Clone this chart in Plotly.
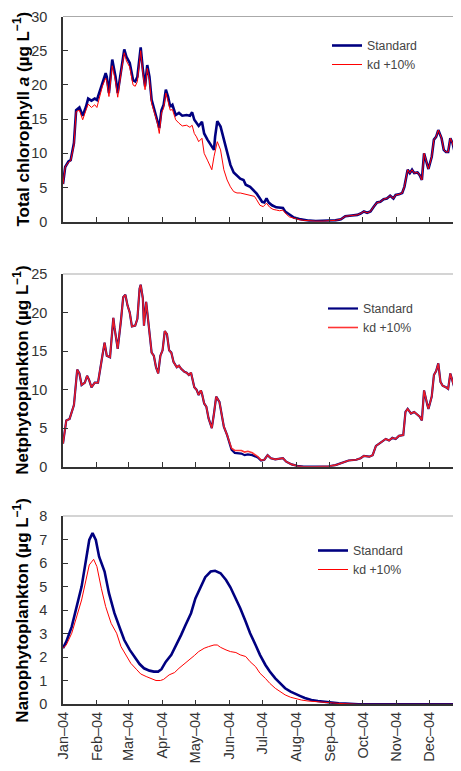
import pandas as pd
import plotly.graph_objects as go

# ---------------- data (day of year 2004, value) ----------------
TOT_STD_DAYS = [0,2,5,7,10,12,15,18,21,23,26,29,31,34,36,39,40,42,45,48,50,53,56,58,61,64,66,68,71,73,75,77,79,81,84,86,88,90,92,94,96,98,100,103,106,109,113,116,118,120,122,124,127,129,132,136,138,139,141,144,147,150,153,156,159,162,165,167,171,174,177,180,182,184,186,188,191,195,198,201,203,207,211,216,220,225,231,237,243,249,254,258,264,269,272,275,278,281,284,287,290,293,296,299,302,304,307,310,312,314,315,317,319,321,324,326,328,330,333,334,337,339,341,343,346,348,350,352,354,356,358,360,363,366]
TOT_STD_VALS = [5.5,8.0,8.8,9.0,11.5,16.3,16.7,15.5,16.8,18.0,17.7,18.0,17.8,19.3,20.5,21.7,21.2,18.8,23.7,21.2,18.8,22.2,25.2,24.1,23.2,20.7,20.5,21.2,25.5,22.2,19.8,22.9,21.2,17.8,15.9,14.9,13.7,16.3,17.1,19.3,18.3,16.8,17.1,15.6,15.9,15.5,15.6,15.5,16.0,14.9,14.4,14.0,14.6,12.9,12.0,11.0,10.5,12.4,14.7,13.9,12.0,10.0,8.3,7.2,6.7,6.3,6.1,5.4,5.1,4.6,4.1,3.4,2.9,2.8,3.4,2.8,2.4,2.1,2.0,2.0,1.5,1.0,0.6,0.4,0.25,0.15,0.1,0.1,0.1,0.2,0.35,0.8,0.9,1.0,1.2,1.5,1.3,1.5,2.2,2.8,2.9,3.3,3.4,3.8,3.4,3.9,4.0,4.2,5.1,7.1,7.6,7.1,7.6,7.1,7.2,6.8,6.1,10.0,8.0,7.7,9.5,12.0,12.4,13.4,12.2,10.5,10.2,10.2,12.2,11.5,10.2,11.2,11.5,11.4]

TOT_KD_DAYS = [0,2,5,7,10,12,15,18,21,23,26,29,31,34,36,39,40,42,45,48,50,53,56,58,61,64,66,68,71,73,75,77,79,81,84,86,88,90,92,94,96,98,100,103,106,109,113,116,118,120,122,124,127,129,132,134,136,138,141,144,147,150,153,156,159,162,165,168,172,175,177,180,183,186,189,192,195,198,201,204,207,212,216,220,225,231,237,243,249,254,258,264,269,272,275,278,281,284,287,290,293,296,299,302,304,307,310,312,314,315,317,319,321,324,326,328,330,333,334,337,339,341,343,346,348,350,352,354,356,358,360,363,366]
TOT_KD_VALS = [5.5,8.0,8.7,8.9,11.2,16.1,16.3,14.9,16.3,17.2,16.7,17.1,16.7,18.8,19.8,21.0,20.5,18.3,22.8,20.5,18.2,21.7,24.7,23.5,22.6,20.0,19.8,20.5,25.0,21.7,19.3,22.4,20.7,17.3,15.5,14.6,12.9,15.9,16.6,18.8,17.6,16.3,16.4,14.9,14.4,14.0,14.1,13.8,14.1,12.9,12.4,11.7,12.2,10.0,9.0,8.3,7.6,9.5,11.7,10.5,7.6,6.1,5.1,4.4,4.2,4.2,4.1,3.9,3.8,3.7,3.2,2.4,2.2,2.7,2.1,1.8,1.7,1.6,1.7,1.1,0.7,0.45,0.3,0.2,0.1,0.08,0.08,0.1,0.2,0.35,0.8,0.9,1.0,1.2,1.5,1.3,1.5,2.2,2.8,2.9,3.3,3.4,3.8,3.4,3.9,4.0,4.2,5.1,7.1,7.6,7.1,7.6,7.1,7.2,6.8,6.1,10.0,8.0,7.7,9.5,12.0,12.4,13.4,12.2,10.5,10.2,10.2,12.2,11.5,10.2,11.2,11.5,11.4]

NET_STD_DAYS = [0,3,6,8,10,13,15,17,20,22,24,26,29,32,34,36,38,40,43,46,47,50,53,55,57,59,61,63,66,68,70,71,73,74,76,79,81,83,85,87,89,91,93,95,97,99,101,104,106,108,111,113,115,117,120,122,124,126,127,129,131,133,136,138,140,143,145,147,150,152,154,157,160,163,166,169,173,178,181,184,187,190,194,197,201,204,209,214,220,231,243,249,255,261,268,272,275,280,283,286,289,292,295,298,301,304,307,311,313,315,318,321,323,326,328,330,333,334,337,339,341,343,345,347,350,352,354,356,358,360,362,366]
NET_STD_VALS = [3.0,6.0,6.2,7.1,8.0,12.6,12.1,10.6,10.9,11.8,11.2,10.3,10.9,10.9,12.9,14.4,16.1,14.4,14.2,19.3,18.1,15.3,19.0,22.0,22.3,20.9,20.0,18.2,18.3,19.2,23.1,23.6,21.8,18.3,21.4,17.9,14.8,14.4,12.9,12.1,14.4,15.1,17.6,17.2,15.1,14.8,13.6,12.9,13.1,12.7,12.3,12.2,11.9,12.2,10.3,10.0,9.3,9.9,9.5,8.2,7.8,6.3,5.0,6.9,9.1,8.4,6.9,5.2,4.1,3.0,2.2,1.8,1.7,1.7,1.5,1.6,1.5,1.2,0.8,0.9,1.5,1.1,0.95,1.0,1.1,0.65,0.3,0.1,0.0,0.0,0.05,0.2,0.55,0.8,0.9,1.1,1.4,1.3,1.5,2.7,3.0,3.3,3.6,3.4,3.75,3.6,4.0,4.1,7.1,7.5,6.9,7.1,6.9,6.5,6.0,9.9,8.0,7.5,9.1,11.9,12.4,13.4,11.0,10.5,10.3,10.1,12.1,11.2,10.1,11.2,11.3,11.2]

NET_KD_DAYS = NET_STD_DAYS
NET_KD_VALS = [3.0,6.0,6.2,7.1,8.0,12.6,12.1,10.6,10.9,11.8,11.2,10.3,10.9,10.9,12.9,14.4,16.1,14.4,14.2,19.3,18.1,15.3,19.0,22.0,22.3,20.9,20.0,18.2,18.3,19.2,23.1,23.6,21.8,18.3,21.4,17.9,14.8,14.4,12.9,12.1,14.4,15.1,17.6,17.2,15.1,14.8,13.6,12.9,13.1,12.7,12.3,12.2,11.9,12.2,10.3,10.0,9.3,9.9,9.5,8.2,7.8,6.3,5.0,6.9,9.1,8.4,6.9,5.2,4.1,3.1,2.4,2.1,2.1,2.1,1.9,2.0,1.8,1.3,0.85,0.9,1.5,1.1,0.95,1.0,1.1,0.65,0.3,0.1,0.0,0.0,0.05,0.2,0.55,0.8,0.9,1.1,1.4,1.3,1.5,2.7,3.0,3.3,3.6,3.4,3.75,3.6,4.0,4.1,7.1,7.5,6.9,7.1,6.9,6.5,6.0,9.9,8.0,7.5,9.1,11.9,12.4,13.4,11.0,10.5,10.3,10.1,12.1,11.2,10.1,11.2,11.3,11.2]

NANO_STD_DAYS = [0,3,8,12,17,21,24,27,30,33,38,42,47,52,56,61,65,70,74,79,83,87,90,94,99,103,108,112,117,121,126,130,135,139,144,149,153,158,162,167,171,176,180,185,189,194,199,203,208,212,217,221,227,233,239,246,252,258,264,270,300,366]
NANO_STD_VALS = [2.38,2.66,3.3,4.08,5.0,6.13,6.98,7.27,6.98,6.27,5.64,4.72,3.87,3.23,2.73,2.31,2.03,1.71,1.53,1.43,1.39,1.39,1.49,1.81,2.1,2.45,2.95,3.37,3.87,4.5,4.97,5.4,5.64,5.67,5.57,5.28,4.97,4.5,4.08,3.51,3.02,2.52,2.1,1.67,1.39,1.1,0.89,0.68,0.54,0.44,0.35,0.27,0.18,0.14,0.1,0.07,0.04,0.03,0.015,0.0,0.0,0.0]

NANO_KD_DAYS = [0,3,8,12,17,21,24,28,31,35,39,44,49,53,58,62,67,71,76,80,85,89,92,97,102,106,111,115,120,124,129,133,138,141,144,149,153,158,162,167,171,176,180,185,189,194,199,203,208,212,218,224,230,238,246,255,264,270,300,366]
NANO_KD_VALS = [2.38,2.52,3.02,3.65,4.43,5.28,5.92,6.16,5.85,4.93,4.15,3.44,3.02,2.45,2.03,1.74,1.49,1.29,1.18,1.1,1.01,1.01,1.06,1.25,1.35,1.53,1.71,1.88,2.07,2.24,2.38,2.45,2.52,2.52,2.42,2.31,2.24,2.2,2.1,2.03,1.81,1.6,1.32,1.1,0.89,0.68,0.54,0.4,0.3,0.24,0.18,0.14,0.11,0.08,0.06,0.03,0.015,0.0,0.0,0.0]

SERIES_NAMES = ["Standard", "kd +10%"]
Y_TITLES = ["Total chlorophyll <i>a</i> (µg L<sup>−1</sup>)",
            "Netphytoplankton (µg L<sup>−1</sup>)",
            "Nanophytoplankton (µg L<sup>−1</sup>)"]
Y_RANGES = [(0, 30, 5), (0, 25, 5), (0, 8, 1)]

BASE = pd.Timestamp("2004-01-01")


def to_dates(days):
    return BASE + pd.to_timedelta(days, unit="D")


W, H = 461, 771
OFF = 8  # page body margin
L_PX, R_PX = 63 - OFF, 461 - OFF
PW = R_PX - L_PX
FONT = "Liberation Sans, Arial, Helvetica, sans-serif"
BLUE = "#000080"
RED = "#FF0000"

fig = go.Figure()

panels = [
    (TOT_STD_DAYS, TOT_STD_VALS, TOT_KD_DAYS, TOT_KD_VALS),
    (NET_STD_DAYS, NET_STD_VALS, NET_KD_DAYS, NET_KD_VALS),
    (NANO_STD_DAYS, NANO_STD_VALS, NANO_KD_DAYS, NANO_KD_VALS),
]
# screen pixel extents (top, bottom) of each plot area
pix = [(16.5, 221.7), (274.0, 466.7), (516.0, 704.3)]
legend_top_px = [31, 294, 536]
legend_left_px = [327, 323, 313]
blue_w = [2.6, 2.2, 2.6]
red_w = [1.0, 1.6, 1.0]
red_col = [RED, "rgba(255,30,30,0.9)", RED]

for i, (sd, sv, kd, kv) in enumerate(panels):
    ax = "" if i == 0 else str(i + 1)
    leg = "legend" if i == 0 else f"legend{i + 1}"
    fig.add_trace(go.Scatter(x=to_dates(sd), y=sv, mode="lines", name=SERIES_NAMES[0],
                             line=dict(color=BLUE, width=blue_w[i]),
                             xaxis="x" + ax, yaxis="y" + ax, legend=leg))
    fig.add_trace(go.Scatter(x=to_dates(kd), y=kv, mode="lines", name=SERIES_NAMES[1],
                             line=dict(color=red_col[i], width=red_w[i]),
                             xaxis="x" + ax, yaxis="y" + ax, legend=leg))

layout = dict(
    template="none",
    width=W, height=H,
    margin=dict(l=L_PX, r=W - R_PX, t=0, b=0, autoexpand=False),
    paper_bgcolor="white", plot_bgcolor="white",
    font=dict(family=FONT, color="#333333"),
    shapes=[], annotations=[],
)

for i in range(3):
    ax = "" if i == 0 else str(i + 1)
    top, bot = pix[i][0] - OFF, pix[i][1] - OFF
    dom = [1 - bot / H, 1 - top / H]
    lo, hi, dt = Y_RANGES[i]
    layout["xaxis" + ax] = dict(
        domain=[0, 1], anchor="y" + ax, type="date", automargin=False,
        range=["2004-01-01", "2004-12-29 18:00"],
        tick0="2004-01-01", dtick="M1", tickformat="%b–%y",
        ticks="inside", ticklen=5, tickwidth=1, tickcolor="#333333",
        showline=True, linecolor="#333333", linewidth=1.5,
        showgrid=False, zeroline=False,
        showticklabels=(i == 2), tickangle=-90,
        tickfont=dict(size=14.5, color="#333333"),
    )
    layout["yaxis" + ax] = dict(
        domain=dom, anchor="x" + ax, range=[lo, hi], dtick=dt, tick0=0, automargin=False,
        ticks="inside", ticklen=5, tickwidth=1, tickcolor="#333333",
        showline=True, linecolor="#333333", linewidth=1.5,
        showgrid=False, zeroline=False,
        tickfont=dict(size=14.5, color="#333333"),
        ticklabelstandoff=11,
    )
    # gray top frame line
    layout["shapes"].append(dict(type="line", xref="x" + ax + " domain", yref="y" + ax + " domain",
                                 x0=0, x1=1, y0=1, y1=1, line=dict(color="#AAAAAA", width=1.2)))
    layout["annotations"].append(dict(
        text="<b>" + Y_TITLES[i] + "</b>", xref="paper", yref="y" + ax + " domain",
        x=(21.5 - OFF - L_PX) / PW, y=0.5, xanchor="center", yanchor="middle",
        textangle=-90, showarrow=False, font=dict(size=17, color="#000000", family=FONT),
    ))
    leg = "legend" if i == 0 else f"legend{i + 1}"
    layout[leg] = dict(
        x=(legend_left_px[i] - OFF - L_PX) / PW, y=1 - (legend_top_px[i] - OFF) / H,
        xanchor="left", yanchor="top",
        bgcolor="rgba(0,0,0,0)", font=dict(size=12.3, color="#444444", family=FONT),
        itemwidth=30, tracegroupgap=0,
    )

fig.update_layout(**layout)
fig.write_html("out.html")
